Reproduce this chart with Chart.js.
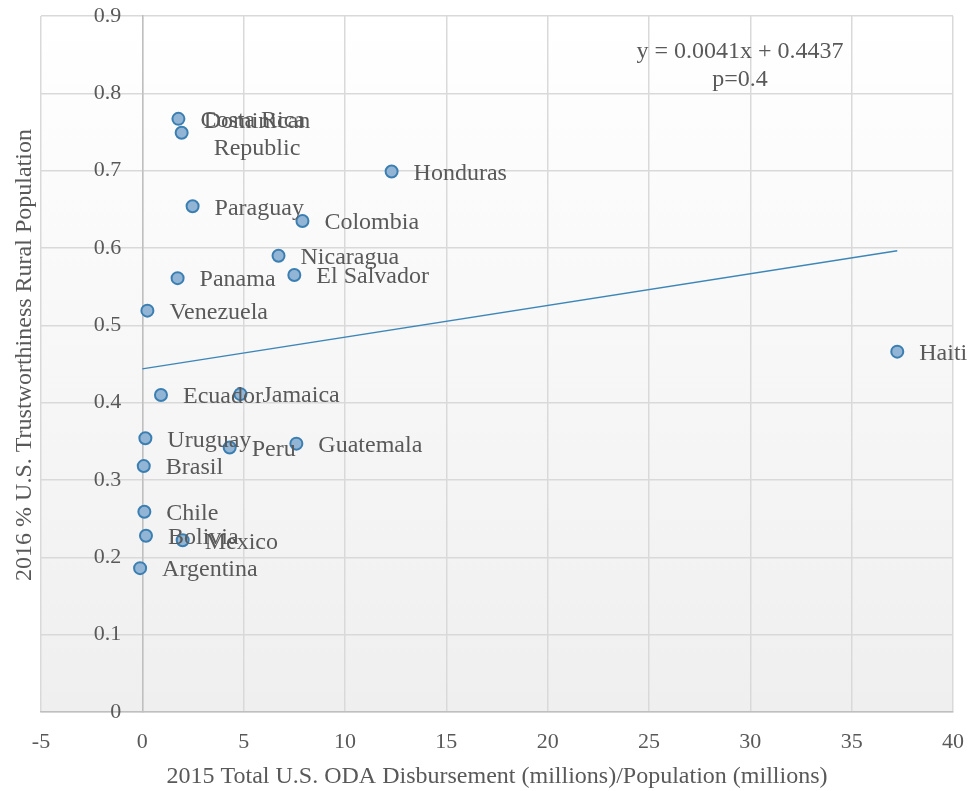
<!DOCTYPE html>
<html>
<head>
<meta charset="utf-8">
<script src="https://cdn.jsdelivr.net/npm/chart.js@4.4.0/dist/chart.umd.min.js"></script>
<style>
html,body{margin:0;padding:0;background:#ffffff;}
#wrap{width:968px;height:791px;}
</style>
</head>
<body>
<div id="wrap"><canvas id="c" width="968" height="791"></canvas></div>
<script>
// ---- data ----
const countries = ['Costa Rica', 'Dominican Republic', 'Honduras', 'Paraguay', 'Colombia', 'Nicaragua',
  'El Salvador', 'Panama', 'Venezuela', 'Haiti', 'Ecuador', 'Jamaica', 'Uruguay', 'Peru', 'Guatemala',
  'Brasil', 'Chile', 'Bolivia', 'Mexico', 'Argentina'];
const odaPerCapita = [1.78, 1.94, 12.3, 2.48, 7.9, 6.72, 7.5, 1.74, 0.25, 37.25, 0.92, 4.84, 0.15, 4.31, 7.6,
  0.07, 0.1, 0.18, 1.99, -0.11];
const trustRural = [0.767, 0.749, 0.699, 0.654, 0.635, 0.590, 0.565, 0.561, 0.519, 0.466, 0.410, 0.411, 0.354,
  0.342, 0.347, 0.318, 0.259, 0.228, 0.222, 0.186];
const xTicks = [-5, 0, 5, 10, 15, 20, 25, 30, 35, 40];
const yTicks = [0, 0.1, 0.2, 0.3, 0.4, 0.5, 0.6, 0.7, 0.8, 0.9];
const yTickLabels = ['0', '0.1', '0.2', '0.3', '0.4', '0.5', '0.6', '0.7', '0.8', '0.9'];
const trendX = [0, 37.25];
const trendY = [0.4437, 0.5964];
const equationLines = ['y = 0.0041x + 0.4437', 'p=0.4'];
const xTitle = '2015 Total U.S. ODA Disbursement (millions)/Population (millions)';
const yTitle = '2016 % U.S. Trustworthiness Rural Population';

const TEXT = '#595959';
const FONT = "'Liberation Serif', 'Times New Roman', serif";

const points = countries.map((c, i) => ({x: odaPerCapita[i], y: trustRural[i], label: c}));
const trend = trendX.map((x, i) => ({x: x, y: trendY[i]}));

const bgPlugin = {
  id: 'bg',
  beforeDraw(chart) {
    const {ctx, chartArea: a} = chart;
    ctx.save();
    ctx.fillStyle = '#ffffff';
    ctx.fillRect(0, 0, chart.width, chart.height);
    const g = ctx.createLinearGradient(0, a.top, 0, a.bottom);
    g.addColorStop(0, '#ffffff');
    g.addColorStop(1, '#efefef');
    ctx.fillStyle = g;
    ctx.fillRect(a.left, a.top, a.right - a.left, a.bottom - a.top);
    ctx.restore();
  }
};

const textPlugin = {
  id: 'texts',
  afterDatasetsDraw(chart) {
    const {ctx} = chart;
    const xs = chart.scales.x, ys = chart.scales.y;
    ctx.save();
    ctx.fillStyle = TEXT;
    // y tick labels, placed left of the y axis (which crosses at x = 0)
    ctx.font = '22px ' + FONT;
    ctx.textAlign = 'right';
    ctx.textBaseline = 'middle';
    const axisX = xs.getPixelForValue(0);
    yTicks.forEach((v, i) => {
      ctx.fillText(yTickLabels[i], axisX - 21, ys.getPixelForValue(v));
    });
    // data labels
    ctx.font = '24px ' + FONT;
    const meta = chart.getDatasetMeta(0);
    meta.data.forEach((el, i) => {
      const name = countries[i];
      const words = name === 'Dominican Republic' ? ['Dominican', 'Republic'] : [name];
      const lh = 27;
      const widths = words.map(w => ctx.measureText(w).width);
      const maxW = Math.max(...widths);
      const left = el.x + 22;
      const top = el.y + 2 - (words.length - 1) * lh / 2;
      ctx.textBaseline = 'middle';
      ctx.textAlign = 'left';
      words.forEach((w, k) => {
        ctx.fillText(w, left + (maxW - widths[k]) / 2, top + k * lh);
      });
    });
    // equation
    ctx.textAlign = 'center';
    ctx.textBaseline = 'middle';
    ctx.fillText(equationLines[0], 740, 52);
    ctx.fillText(equationLines[1], 740, 80);
    // y title
    ctx.translate(25, 355);
    ctx.rotate(-Math.PI / 2);
    ctx.fillText(yTitle, 0, 0);
    ctx.restore();
  }
};

new Chart(document.getElementById('c'), {
  type: 'scatter',
  data: {
    datasets: [
      {
        label: 'Countries',
        data: points,
        pointRadius: 6,
        pointHoverRadius: 6,
        pointBackgroundColor: '#92b5d5',
        pointBorderColor: '#3b7fb2',
        pointBorderWidth: 2,
        showLine: false
      },
      {
        label: 'Trend',
        data: trend,
        showLine: true,
        borderColor: '#3d86b8',
        borderWidth: 1.5,
        pointRadius: 0,
        fill: false
      }
    ]
  },
  plugins: [bgPlugin, textPlugin],
  options: {
    responsive: false,
    animation: false,
    devicePixelRatio: 1,
    layout: {padding: {left: 41, top: 16, right: 15, bottom: 0}},
    plugins: {legend: {display: false}, tooltip: {enabled: false}},
    scales: {
      x: {
        type: 'linear',
        min: -5, max: 40,
        afterBuildTicks(s) { s.ticks = xTicks.map(v => ({value: v})); },
        afterFit(s) { s.height = 79; s.paddingLeft = 0; s.paddingRight = 0; s.paddingTop = 0; s.paddingBottom = 0; },
        ticks: {color: TEXT, font: {family: FONT, size: 22}, padding: 17},
        grid: {color: '#d9d9d9', lineWidth: 1.5, drawTicks: false},
        border: {display: true, color: '#bfbfbf', width: 1.5},
        title: {display: true, text: xTitle, color: TEXT, font: {family: FONT, size: 24}, padding: {top: 4, bottom: 0}}
      },
      y: {
        type: 'linear',
        position: {x: 0},
        min: 0, max: 0.9,
        afterBuildTicks(s) { s.ticks = yTicks.map(v => ({value: v})); },
        afterFit(s) { s.paddingLeft = 0; s.paddingRight = 0; s.paddingTop = 0; s.paddingBottom = 0; },
        ticks: {display: false},
        grid: {color: '#d9d9d9', lineWidth: 1.5, drawTicks: false},
        border: {display: true, color: '#bfbfbf', width: 1.5}
      }
    }
  }
});
</script>
</body>
</html>
